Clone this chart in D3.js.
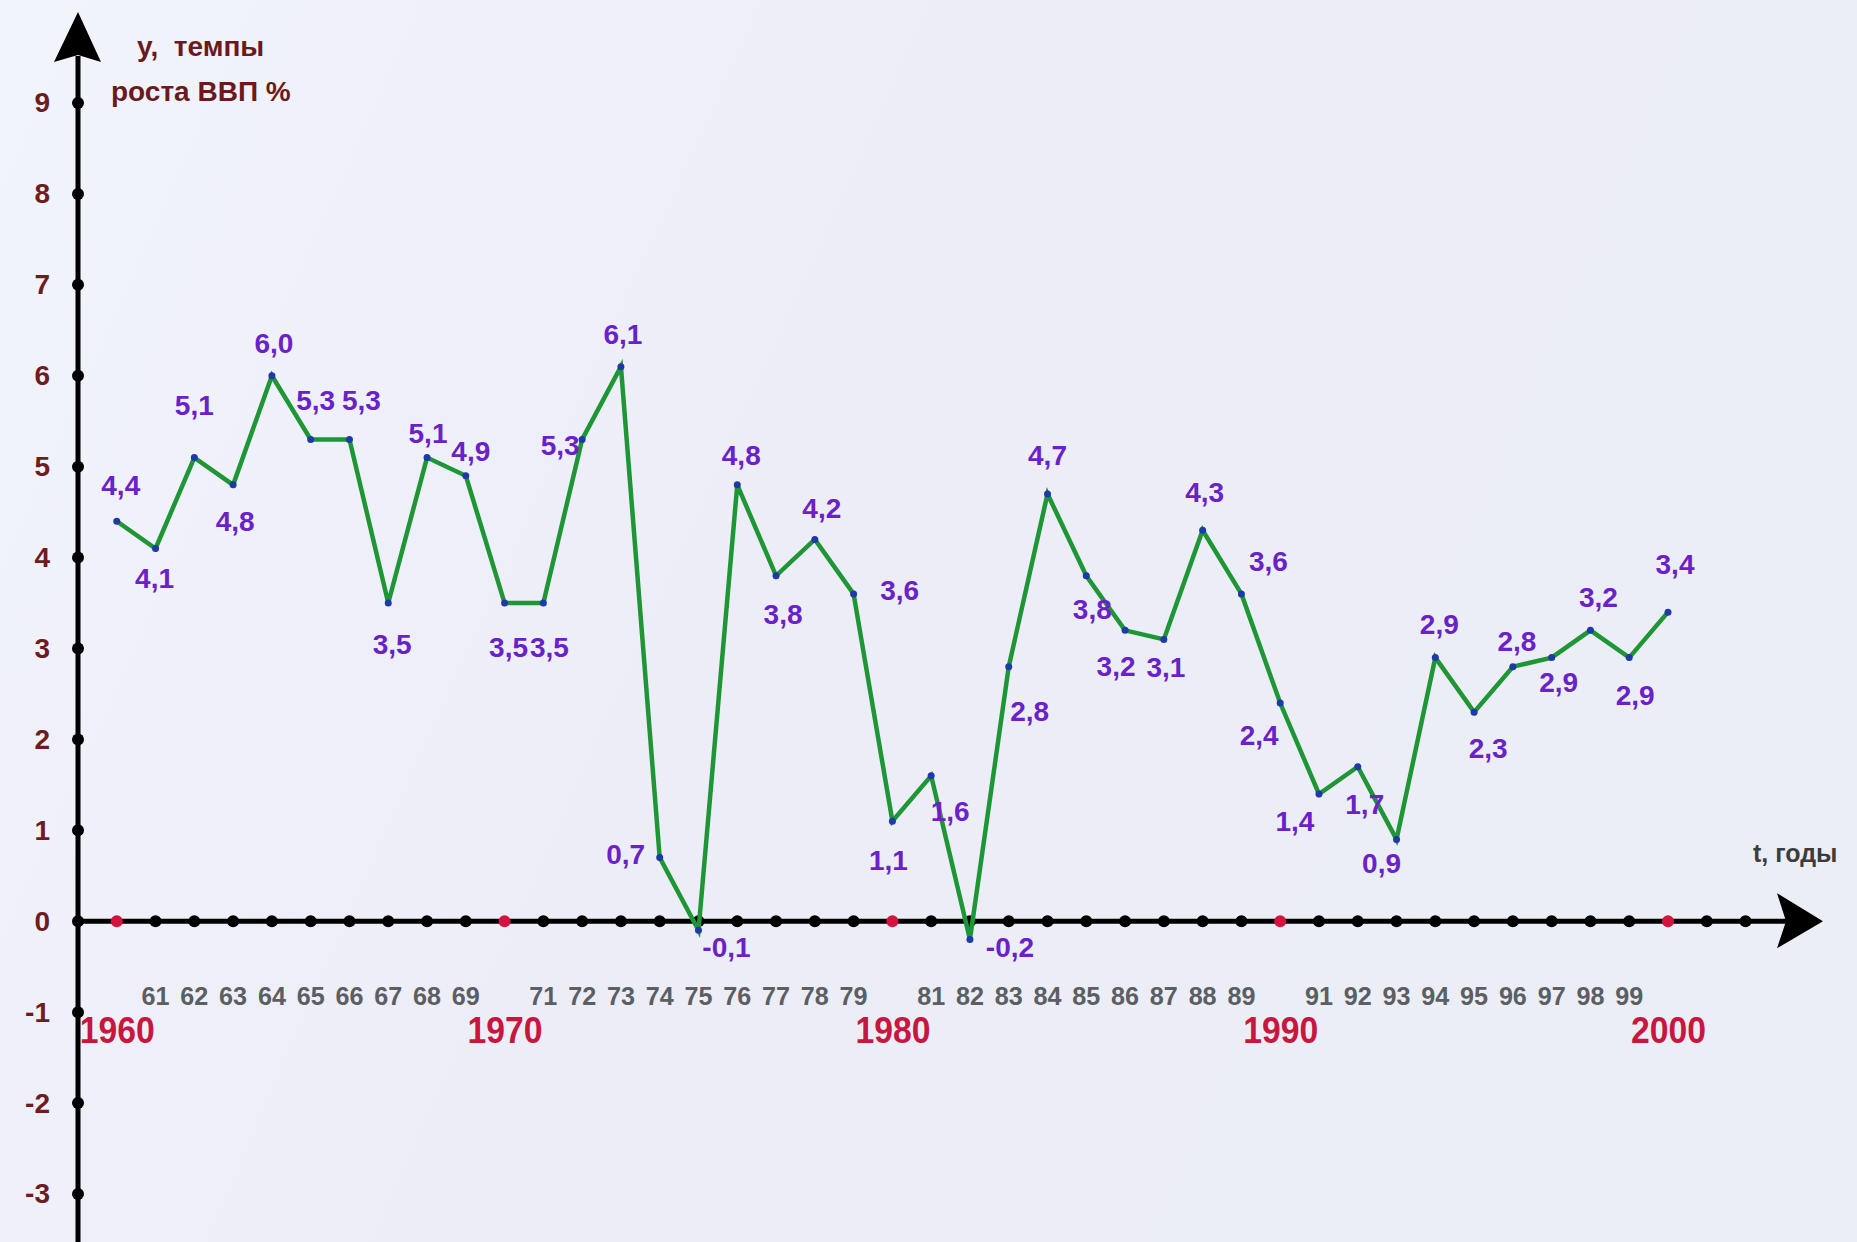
<!DOCTYPE html>
<html>
<head>
<meta charset="utf-8">
<script src="https://cdn.jsdelivr.net/npm/d3@7"></script>
<style>
  body { margin: 0; background: #eef0f7; }
  svg { display: block; }
  text { font-family: "Liberation Sans", Arial, sans-serif; font-weight: bold; }
</style>
</head>
<body>
<svg id="chart" width="1857" height="1242"></svg>
<script>
// GDP growth, %, by year
var years = [1960, 1961, 1962, 1963, 1964, 1965, 1966, 1967, 1968, 1969,
             1970, 1971, 1972, 1973, 1974, 1975, 1976, 1977, 1978, 1979,
             1980, 1981, 1982, 1983, 1984, 1985, 1986, 1987, 1988, 1989,
             1990, 1991, 1992, 1993, 1994, 1995, 1996, 1997, 1998, 1999, 2000];
var growth = [4.4, 4.1, 5.1, 4.8, 6.0, 5.3, 5.3, 3.5, 5.1, 4.9,
              3.5, 3.5, 5.3, 6.1, 0.7, -0.1, 4.8, 3.8, 4.2, 3.6,
              1.1, 1.6, -0.2, 2.8, 4.7, 3.8, 3.2, 3.1, 4.3, 3.6,
              2.4, 1.4, 1.7, 0.9, 2.9, 2.3, 2.8, 2.9, 3.2, 2.9, 3.4];
var yTicks = [-3, -2, -1, 0, 1, 2, 3, 4, 5, 6, 7, 8, 9];
var axisYears = [1960, 1961, 1962, 1963, 1964, 1965, 1966, 1967, 1968, 1969,
                 1970, 1971, 1972, 1973, 1974, 1975, 1976, 1977, 1978, 1979,
                 1980, 1981, 1982, 1983, 1984, 1985, 1986, 1987, 1988, 1989,
                 1990, 1991, 1992, 1993, 1994, 1995, 1996, 1997, 1998, 1999,
                 2000, 2001, 2002];
var decades = [1960, 1970, 1980, 1990, 2000];
var yTitle = ["y,\u00a0 темпы", "роста ВВП %"];
var xTitle = "t, годы";

// where each value label sits relative to its point [dx, dy]
var labelNudge = [[4,-26],[-1,40],[0,-43],[2,46],[2,-23],[5,-29],[12,-29],[4,51],[1,-15],[5,-15],
                  [4,54],[6,54],[-22,16],[2,-23],[-34,6],[28,27],[4,-20],[7,48],[7,-21],[46,6],
                  [-4,49],[19,45],[40,18],[21,54],[0,-29],[6,43],[-9,46],[2,38],[2,-28],[27,-23],
                  [-21,42],[-24,37],[7,47],[-15,34],[4,-24],[14,46],[4,-16],[7,34],[8,-23],[6,47],[7,-38]];

var svg = d3.select('#chart');
var width = +svg.attr('width');
var height = +svg.attr('height');

var grad = svg.append('defs').append('linearGradient')
    .attr('id', 'bg').attr('x1', 0).attr('x2', 1).attr('y1', 0).attr('y2', 0.3);
grad.append('stop').attr('offset', 0).attr('stop-color', '#f2f4fc');
grad.append('stop').attr('offset', 0.5).attr('stop-color', '#ecedf6');
grad.append('stop').attr('offset', 1).attr('stop-color', '#eceef6');
svg.append('rect').attr('width', width).attr('height', height).attr('fill', 'url(#bg)');

var xScale = d3.scaleLinear().domain([1959, 2000]).range([78, 1668]);
var yScale = d3.scaleLinear().domain([-3, 9]).range([1194, 103]);

var x0 = xScale(1959);
var y0 = yScale(0);

// axis lines with arrows
svg.append('line')
    .attr('x1', x0).attr('x2', x0).attr('y1', height).attr('y2', 56)
    .attr('stroke', '#000').attr('stroke-width', 5);
svg.append('path')
    .attr('d', `M${x0},12 L${x0 + 23},62 L${x0},55 L${x0 - 24},62 Z`)
    .attr('fill', '#000');
svg.append('line')
    .attr('x1', x0).attr('x2', 1786).attr('y1', y0).attr('y2', y0)
    .attr('stroke', '#000').attr('stroke-width', 5);
svg.append('path')
    .attr('d', `M1823,${y0} L1777,${y0 - 28} L1786,${y0} L1777,${y0 + 27} Z`)
    .attr('fill', '#000');

// y axis labels
var yAxis = d3.axisLeft(yScale)
    .tickValues(yTicks)
    .tickSize(0)
    .tickPadding(28)
    .tickFormat(function (d) { return String(d); });
var yAxisG = svg.append('g')
    .attr('transform', `translate(${x0},0)`)
    .call(yAxis);
yAxisG.select('.domain').remove();
yAxisG.selectAll('text')
    .attr('font-size', 28)
    .attr('font-family', '"Liberation Sans", Arial, sans-serif')
    .attr('font-weight', 'bold')
    .attr('fill', '#6e1c22');

svg.append('g').selectAll('circle').data(yTicks).enter().append('circle')
    .attr('cx', x0)
    .attr('cy', function (d) { return yScale(d); })
    .attr('r', 6)
    .attr('fill', '#000');

// x axis dots
svg.append('g').selectAll('circle').data(axisYears).enter().append('circle')
    .attr('cx', function (d) { return xScale(d); })
    .attr('cy', y0)
    .attr('r', 6)
    .attr('fill', function (d) { return decades.indexOf(d) >= 0 ? '#d4143f' : '#000'; });

// two-digit year labels
svg.append('g').selectAll('text')
    .data(years.filter(function (d) { return decades.indexOf(d) < 0; }))
    .enter().append('text')
    .attr('x', function (d) { return xScale(d); })
    .attr('y', 1005)
    .attr('text-anchor', 'middle')
    .attr('font-size', 26)
    .attr('textLength', 28)
    .attr('lengthAdjust', 'spacingAndGlyphs')
    .attr('fill', '#5b5e63')
    .text(function (d) { return String(d % 100); });

// decade labels
svg.append('g').selectAll('text').data(decades).enter().append('text')
    .attr('x', function (d) { return xScale(d) - 37; })
    .attr('y', 1043)
    .attr('font-size', 37)
    .attr('textLength', 75)
    .attr('lengthAdjust', 'spacingAndGlyphs')
    .attr('fill', '#c8163f')
    .text(function (d) { return d; });

// titles
svg.append('text').attr('x', 137).attr('y', 56)
    .attr('font-size', 28).attr('fill', '#6a1a1e').text(yTitle[0]);
svg.append('text').attr('x', 111).attr('y', 101)
    .attr('font-size', 28).attr('fill', '#6a1a1e').text(yTitle[1]);
svg.append('text').attr('x', 1753).attr('y', 862)
    .attr('font-size', 25).attr('fill', '#3c3c3f').text(xTitle);

// data line
var data = years.map(function (d, i) { return { year: d, value: growth[i], nudge: labelNudge[i] }; });

var line = d3.line()
    .x(function (d) { return xScale(d.year); })
    .y(function (d) { return yScale(d.value); });

svg.append('path')
    .datum(data)
    .attr('d', line)
    .attr('fill', 'none')
    .attr('stroke', '#1f9636')
    .attr('stroke-width', 4.5)
    .attr('stroke-linejoin', 'miter');

svg.append('g').selectAll('circle').data(data).enter().append('circle')
    .attr('cx', function (d) { return xScale(d.year); })
    .attr('cy', function (d) { return yScale(d.value); })
    .attr('r', 3.5)
    .attr('fill', '#1f3aa8');

svg.append('g').selectAll('text').data(data).enter().append('text')
    .attr('x', function (d) { return xScale(d.year) + d.nudge[0]; })
    .attr('y', function (d) { return yScale(d.value) + d.nudge[1]; })
    .attr('text-anchor', 'middle')
    .attr('font-size', 28)
    .attr('fill', '#6a22c8')
    .text(function (d) { return d.value.toFixed(1).replace('.', ','); });
</script>
</body>
</html>
